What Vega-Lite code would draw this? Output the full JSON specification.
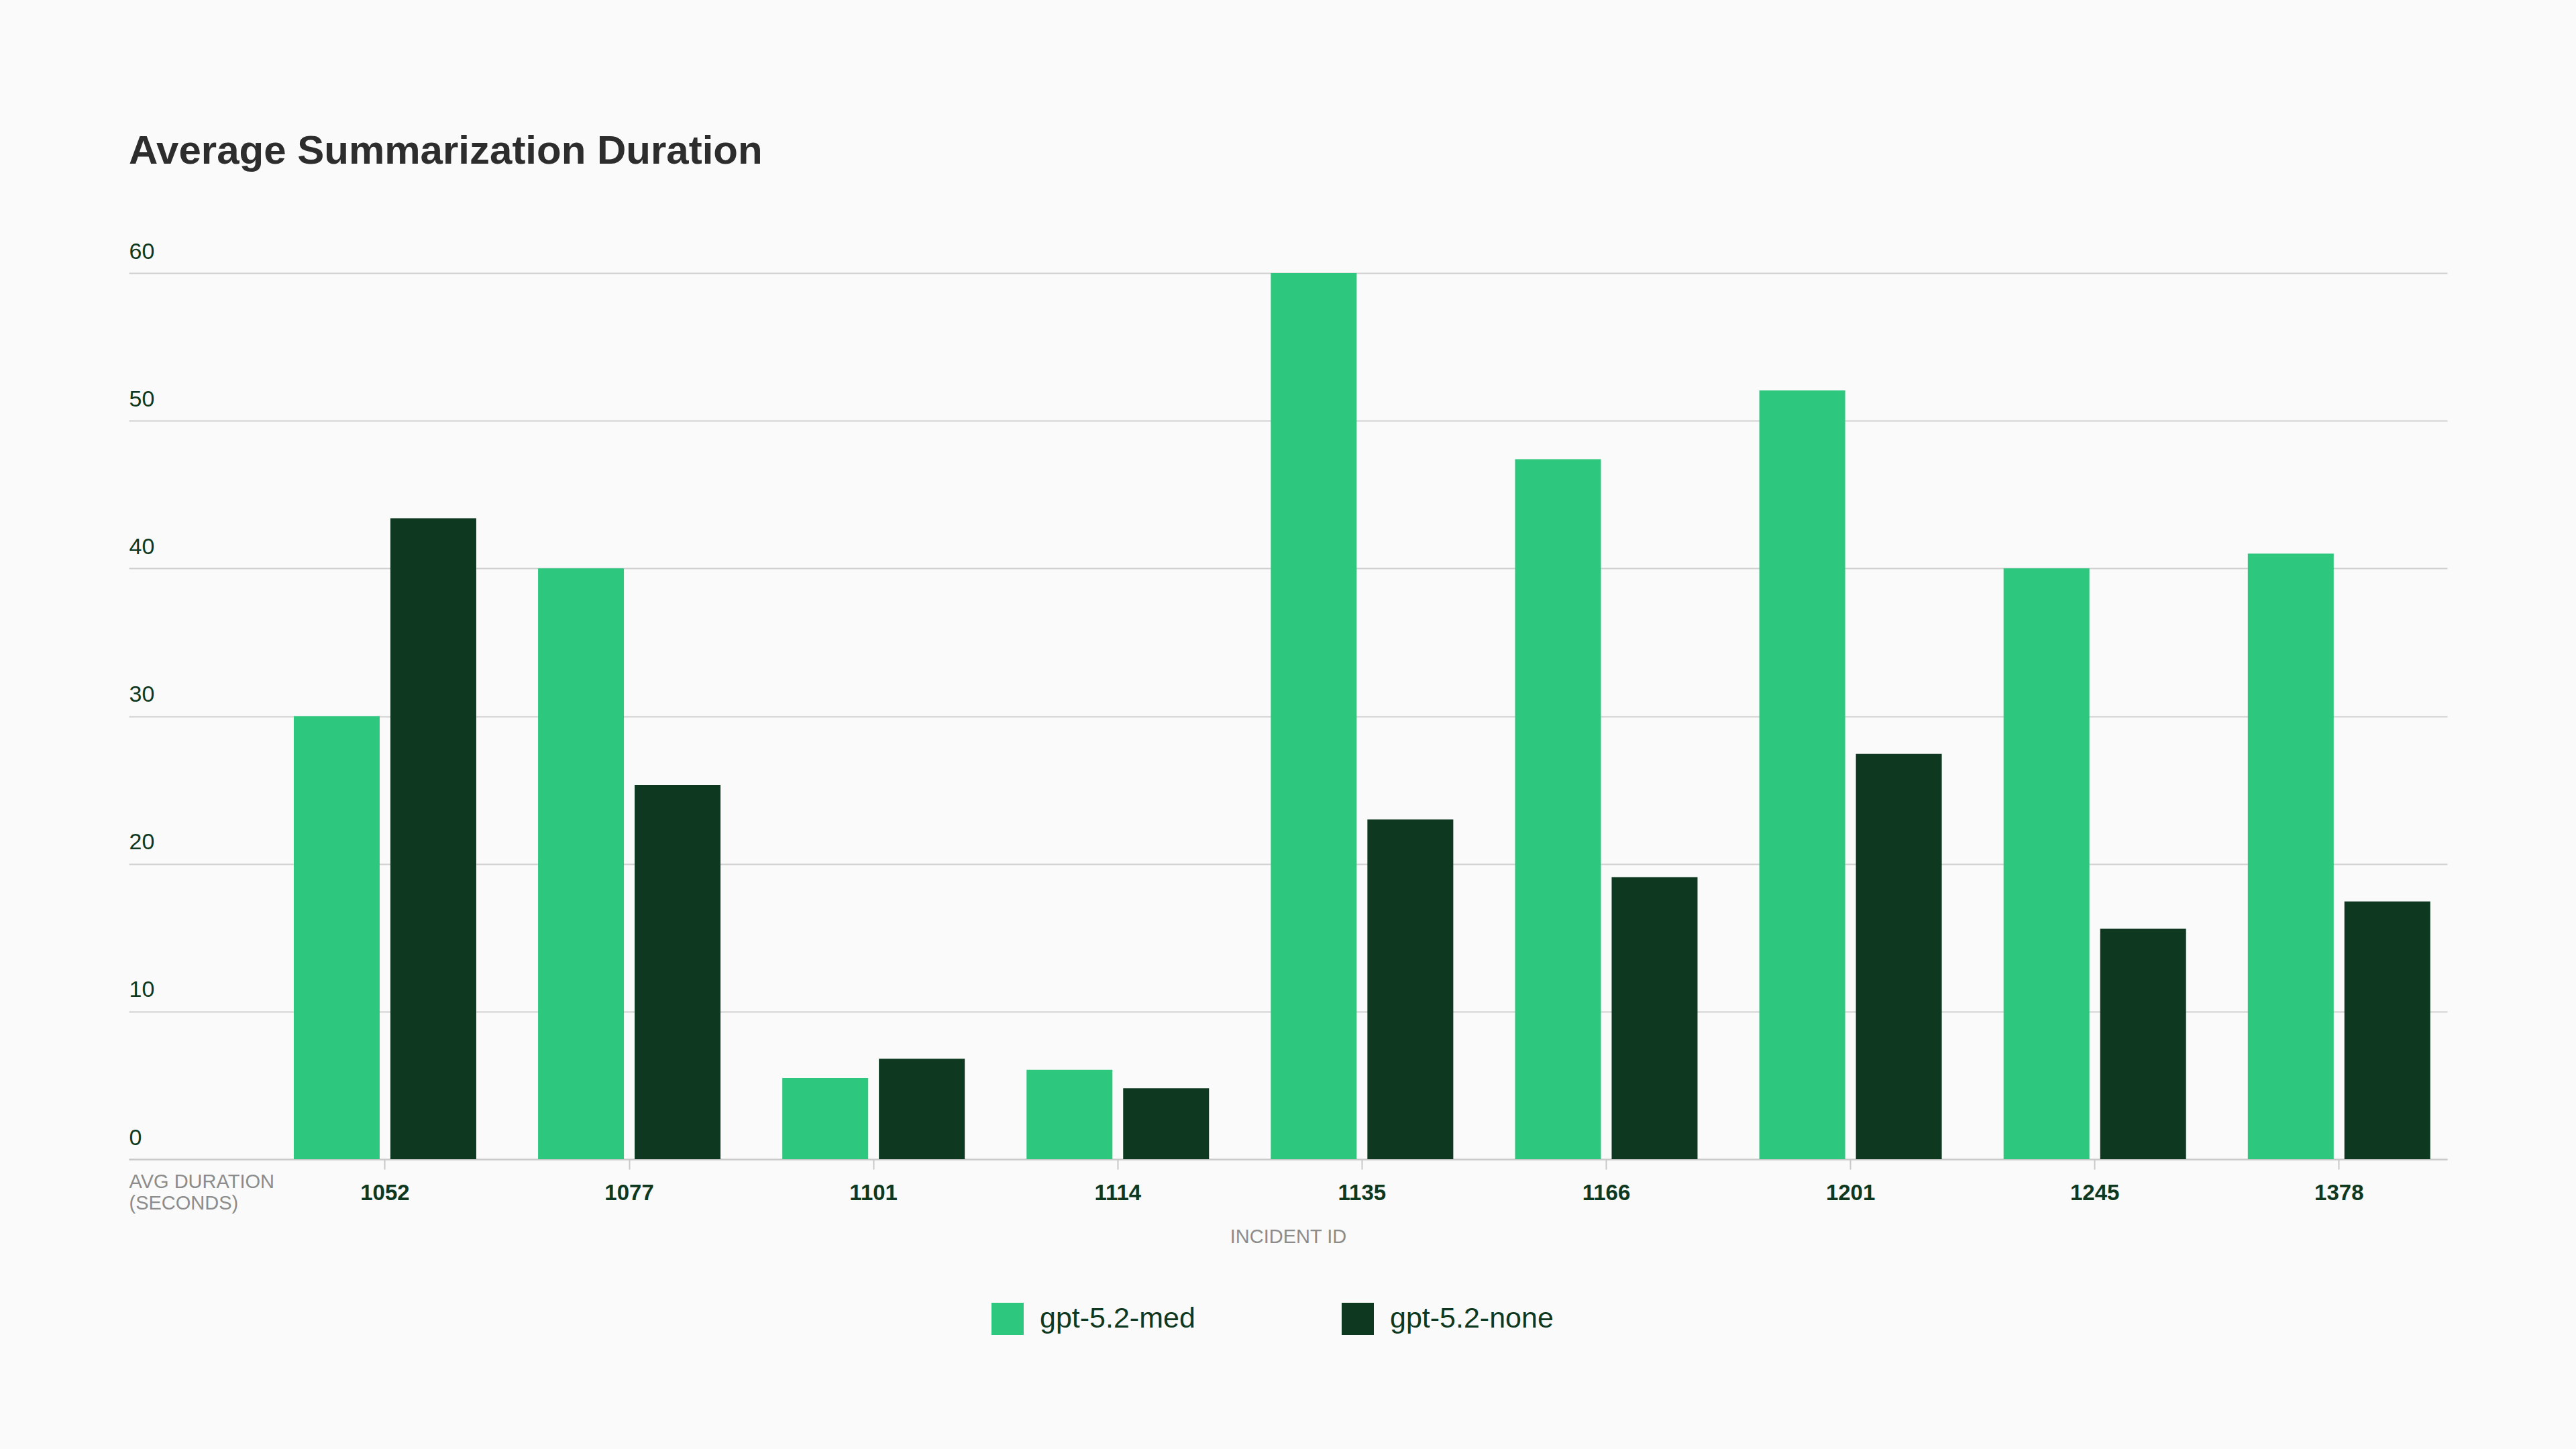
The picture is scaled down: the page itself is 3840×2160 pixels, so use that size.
{
  "$schema": "https://vega.github.io/schema/vega-lite/v6.json",
  "autosize": {"type": "none"},
  "width": 3456,
  "height": 1321,
  "padding": {"left": 192, "top": 407, "right": 192, "bottom": 432},
  "background": "#fafafa",
  "title": {
    "text": "Average Summarization Duration",
    "anchor": "start",
    "frame": "group",
    "baseline": "alphabetic",
    "offset": 54,
    "font": "Liberation Sans",
    "fontSize": 60,
    "fontWeight": "bold",
    "color": "#2d2d2d"
  },
  "data": {
    "values": [
      {"incident": "1052", "model": "gpt-5.2-med", "duration": 30.0},
      {"incident": "1052", "model": "gpt-5.2-none", "duration": 43.4},
      {"incident": "1077", "model": "gpt-5.2-med", "duration": 40.0},
      {"incident": "1077", "model": "gpt-5.2-none", "duration": 25.35},
      {"incident": "1101", "model": "gpt-5.2-med", "duration": 5.5},
      {"incident": "1101", "model": "gpt-5.2-none", "duration": 6.8},
      {"incident": "1114", "model": "gpt-5.2-med", "duration": 6.05},
      {"incident": "1114", "model": "gpt-5.2-none", "duration": 4.8},
      {"incident": "1135", "model": "gpt-5.2-med", "duration": 60.0},
      {"incident": "1135", "model": "gpt-5.2-none", "duration": 23.0},
      {"incident": "1166", "model": "gpt-5.2-med", "duration": 47.4},
      {"incident": "1166", "model": "gpt-5.2-none", "duration": 19.1},
      {"incident": "1201", "model": "gpt-5.2-med", "duration": 52.05},
      {"incident": "1201", "model": "gpt-5.2-none", "duration": 27.45},
      {"incident": "1245", "model": "gpt-5.2-med", "duration": 40.0},
      {"incident": "1245", "model": "gpt-5.2-none", "duration": 15.6},
      {"incident": "1378", "model": "gpt-5.2-med", "duration": 41.0},
      {"incident": "1378", "model": "gpt-5.2-none", "duration": 17.45}
    ]
  },
  "mark": {"type": "bar"},
  "encoding": {
    "x": {
      "field": "incident",
      "type": "nominal",
      "sort": "ascending",
      "scale": {"paddingInner": 0.253, "paddingOuter": 0.3724, "align": 0.907},
      "axis": {
        "title": "INCIDENT ID",
        "labelAngle": 0,
        "labelFont": "Liberation Sans",
        "labelFontSize": 33,
        "labelFontWeight": "bold",
        "labelColor": "#0e3920",
        "labelPadding": 19,
        "tickSize": 15,
        "tickWidth": 2,
        "tickColor": "#c8c8c8",
        "domainColor": "#c8c8c8",
        "domainWidth": 2,
        "titleFont": "Liberation Sans",
        "titleFontSize": 29,
        "titleFontWeight": "normal",
        "titleColor": "#8c8c8c",
        "titleBaseline": "alphabetic",
        "titleY": 124
      }
    },
    "xOffset": {
      "field": "model",
      "type": "nominal",
      "scale": {"paddingInner": 0.111, "paddingOuter": 0}
    },
    "y": {
      "field": "duration",
      "type": "quantitative",
      "scale": {"domain": [0, 60], "nice": false},
      "axis": {
        "values": [0, 10, 20, 30, 40, 50, 60],
        "title": ["AVG DURATION", "(SECONDS)"],
        "grid": true,
        "gridColor": "#d0d0d0",
        "gridWidth": 2,
        "domain": false,
        "ticks": false,
        "labelAlign": "left",
        "labelBaseline": "alphabetic",
        "labelOffset": -22,
        "labelPadding": 0,
        "labelFont": "Liberation Sans",
        "labelFontSize": 34,
        "labelColor": "#0e3920",
        "titleAngle": 0,
        "titleAlign": "left",
        "titleBaseline": "top",
        "titleX": 0,
        "titleY": 1340,
        "titleLineHeight": 32,
        "titleFont": "Liberation Sans",
        "titleFontSize": 29,
        "titleFontWeight": "normal",
        "titleColor": "#8c8c8c"
      }
    },
    "color": {
      "field": "model",
      "type": "nominal",
      "scale": {"domain": ["gpt-5.2-med", "gpt-5.2-none"], "range": ["#2dc87e", "#0e3920"]},
      "legend": {
        "title": null,
        "orient": "none",
        "legendX": 1286,
        "legendY": 1535,
        "direction": "horizontal",
        "symbolType": "square",
        "symbolSize": 2304,
        "symbolStrokeWidth": 0,
        "symbolOpacity": 1,
        "labelFont": "Liberation Sans",
        "labelFontSize": 43,
        "labelLimit": 0,
        "labelColor": "#0e3920",
        "labelOffset": 24,
        "columnPadding": 218,
        "padding": 0
      }
    }
  },
  "config": {
    "view": {"stroke": null}
  }
}
